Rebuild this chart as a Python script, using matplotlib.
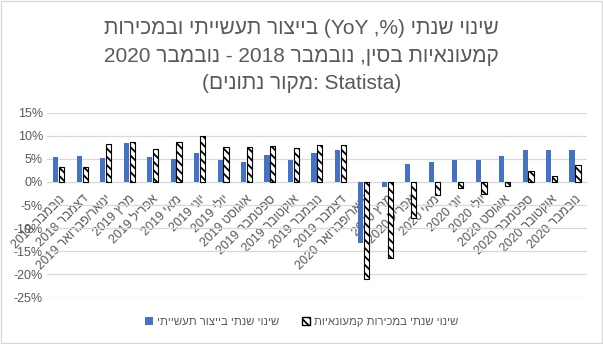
import matplotlib
matplotlib.use("Agg")
import matplotlib.pyplot as plt
import numpy as np
from itertools import groupby
from matplotlib.patches import Rectangle, Patch

# data (yoy change, %)
months = ["נובמבר 2018", "דצמבר 2018", "ינואר/פברואר 2019", "מרץ 2019", "אפריל 2019",
          "מאי 2019", "יוני 2019", "יולי 2019", "אוגוסט 2019", "ספטמבר 2019",
          "אוקטובר 2019", "נובמבר 2019", "דצמבר 2019", "ינואר/פברואר 2020", "מרץ 2020",
          "אפריל 2020", "מאי 2020", "יוני 2020", "יולי 2020", "אוגוסט 2020",
          "ספטמבר 2020", "אוקטובר 2020", "נובמבר 2020"]
industrial = [5.4, 5.7, 5.3, 8.5, 5.4, 5.0, 6.3, 4.8, 4.4, 5.8, 4.7, 6.2,
              6.9, -13.3, -1.1, 3.9, 4.4, 4.8, 4.8, 5.6, 6.9, 6.9, 7.0]
retail = [3.3, 3.3, 8.2, 8.7, 7.1, 8.6, 9.9, 7.5, 7.5, 7.8, 7.3, 8.0,
          8.0, -21.0, -16.5, -7.9, -2.9, -1.2, -2.6, -0.9, 2.3, 1.2, 3.6]
yticks = [-25, -20, -15, -10, -5, 0, 5, 10, 15]

title_lines = ["שינוי שנתי (%, YoY) בייצור תעשייתי ובמכירות",
               "קמעונאיות בסין, נובמבר 2018 - נובמבר 2020"]
source_he = "מקור נתונים"
source_en = "Statista"
label_industrial = "שינוי שנתי בייצור תעשייתי"
label_retail = "שינוי שנתי במכירות קמעונאיות"

MIRROR = {"(": ")", ")": "("}


def heb(s):
    # crude bidi for an rtl line: hebrew runs get reversed, latin/digit runs stay
    def kind(c):
        if "\u0590" <= c <= "\u05ff":
            return "R"
        if c.isascii() and c.isalnum():
            return "L"
        return "N"
    raw = [kind(c) for c in s]
    res = []
    for i, k in enumerate(raw):
        if k != "N":
            res.append(k)
            continue
        prev = next((raw[j] for j in range(i - 1, -1, -1) if raw[j] != "N"), "R")
        nxt = next((raw[j] for j in range(i + 1, len(s)) if raw[j] != "N"), "R")
        res.append("L" if prev == "L" and nxt == "L" else "R")
    runs = [(k, "".join(c for c, _ in g)) for k, g in groupby(zip(s, res), key=lambda t: t[1])]
    out = []
    for k, txt in reversed(runs):
        if k == "R":
            out.append("".join(MIRROR.get(c, c) for c in reversed(txt)))
        else:
            out.append(txt)
    return "".join(out)


plt.rcParams["font.family"] = ["Liberation Sans", "DejaVu Sans"]
plt.rcParams["hatch.linewidth"] = 1.3
gray = "#595959"

fig = plt.figure(figsize=(6.03, 3.44), dpi=100)
ax = fig.add_axes([0.078, 0.136, 0.895, 0.536])

x = np.arange(len(months))
w = 0.22
ax.bar(x - 0.125, industrial, w, color="#4472C4", zorder=3)
ax.bar(x + 0.125, retail, w, facecolor="white", edgecolor="black",
       hatch="\\\\\\\\", linewidth=0.8, zorder=3)

ax.set_xlim(-0.5, len(months) - 0.5)
ax.set_ylim(-25, 15)
ax.set_yticks(yticks)
ax.set_yticklabels([f"{v}%" for v in yticks], color=gray, fontsize=9)
ax.yaxis.grid(True, color="#d9d9d9", linewidth=0.9, zorder=0)

# category axis sits on the zero line
ax.spines["bottom"].set_position(("data", 0))
ax.spines["bottom"].set_color("#d9d9d9")
for s in ["top", "right", "left"]:
    ax.spines[s].set_visible(False)
ax.set_xticks(x)
ax.set_xticklabels([heb(m) for m in months], rotation=45, ha="right",
                   rotation_mode="anchor", color=gray, fontsize=9)
ax.tick_params(axis="y", length=0, pad=3)
ax.tick_params(axis="x", length=0, pad=8)

# title (source line is laid out left to right in the original)
lines = [heb(l) for l in title_lines] + ["(" + heb(source_he) + ": " + source_en + ")"]
for i, line in enumerate(lines):
    fig.text(0.5, 0.918 - i * 0.081, line, ha="center", va="center",
             fontsize=15, color=gray)

handles = [Patch(facecolor="#4472C4", label=heb(label_industrial)),
           Patch(facecolor="white", edgecolor="black", hatch="\\\\\\\\", label=heb(label_retail))]
fig.legend(handles=handles, loc="center", bbox_to_anchor=(0.5, 0.063), ncol=2,
           frameon=False, fontsize=8.2, labelcolor=gray, handlelength=0.7,
           handleheight=0.7, handletextpad=0.35, columnspacing=2.0)

# light frame around the chart
fig.add_artist(Rectangle((0.001, 0.002), 0.997, 0.995, transform=fig.transFigure,
                         fill=False, edgecolor="#d9d9d9", linewidth=1))

fig.savefig("out.png", dpi=100)
